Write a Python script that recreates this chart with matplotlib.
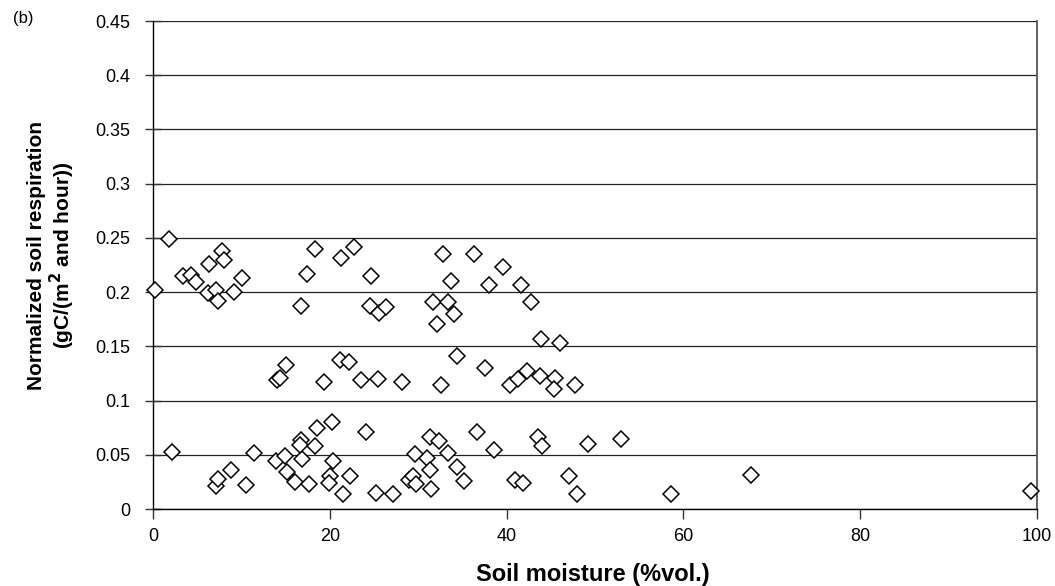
import matplotlib
matplotlib.use("Agg")
import matplotlib.pyplot as plt

plt.rcParams['font.family'] = ['Liberation Sans', 'DejaVu Sans']

soil_moisture = [
    1.8, 0.2, 3.4, 4.3, 4.9, 6.3, 7.8, 8.0, 6.2, 7.1, 7.4, 9.2, 10.1,
    16.7, 17.4, 18.3, 21.3, 22.7, 24.7, 24.5, 25.6, 26.4, 31.7, 32.1,
    32.8, 36.3, 39.6, 33.7, 38.0, 41.6, 33.4, 34.1, 42.8, 43.9, 46.0,
    34.4, 37.5, 32.6, 40.4, 41.3, 42.3, 43.8, 45.5, 45.4, 47.7,
    15.0, 14.0, 14.4, 19.3, 21.2, 22.2, 23.5, 25.5, 28.2,
    31.3, 32.4, 33.4, 31.0, 31.3, 31.5, 34.4, 35.2, 36.7, 38.6, 41.0, 41.8,
    43.5, 44.0, 47.1, 48.0, 49.2, 52.9, 58.6, 67.6, 99.3,
    2.2, 7.1, 7.3, 8.8, 10.5, 11.4, 13.9, 14.9, 15.2, 16.8, 16.1, 16.7,
    16.6, 18.3, 18.6, 20.3, 17.7, 20.4, 20.0, 19.9, 22.3, 21.5, 24.1,
    25.2, 27.2, 29.6, 29.0, 29.4, 29.8,
]
respiration = [
    0.249, 0.202, 0.215, 0.216, 0.209, 0.226, 0.238, 0.230, 0.199, 0.202, 0.192, 0.200, 0.213,
    0.187, 0.217, 0.240, 0.231, 0.242, 0.215, 0.187, 0.181, 0.186, 0.191, 0.171,
    0.235, 0.235, 0.223, 0.210, 0.207, 0.207, 0.191, 0.180, 0.191, 0.157, 0.153,
    0.141, 0.130, 0.114, 0.114, 0.120, 0.127, 0.123, 0.121, 0.111, 0.114,
    0.133, 0.119, 0.121, 0.117, 0.137, 0.136, 0.119, 0.120, 0.117,
    0.066, 0.063, 0.052, 0.047, 0.036, 0.018, 0.039, 0.026, 0.071, 0.054, 0.027, 0.024,
    0.066, 0.058, 0.030, 0.014, 0.060, 0.065, 0.014, 0.031, 0.017,
    0.053, 0.021, 0.028, 0.036, 0.022, 0.052, 0.044, 0.049, 0.034, 0.046, 0.025, 0.064,
    0.059, 0.058, 0.075, 0.080, 0.023, 0.044, 0.030, 0.024, 0.030, 0.014, 0.071,
    0.015, 0.014, 0.051, 0.027, 0.030, 0.023,
]
x_ticks = [0, 20, 40, 60, 80, 100]
y_ticks = [0, 0.05, 0.1, 0.15, 0.2, 0.25, 0.3, 0.35, 0.4, 0.45]
y_ticklabels = ['0', '0.05', '0.1', '0.15', '0.2', '0.25', '0.3', '0.35', '0.4', '0.45']

fig = plt.figure(figsize=(10.55, 5.86), dpi=100)
ax = fig.add_axes([153/1055, 1 - 509/586, (1037 - 153)/1055, (509 - 21)/586])

for yv in y_ticks:
    ax.axhline(yv, color='#222222', lw=0.9, zorder=1)

ax.plot(soil_moisture, respiration, linestyle='none', marker='D', ms=8.2,
        mfc='white', mec='black', mew=1.1, zorder=3, clip_on=False)

ax.set_xlim(0, 100)
ax.set_ylim(0, 0.45)
ax.set_xticks(x_ticks)
ax.set_yticks(y_ticks)
ax.set_yticklabels(y_ticklabels)
ax.tick_params(axis='both', labelsize=13, color='#333333', width=1)
ax.tick_params(axis='y', direction='inout', length=12, pad=10.5)
ax.tick_params(axis='x', direction='out', length=7, pad=7)

ax.spines['top'].set_visible(False)
ax.spines['left'].set_color('black')
ax.spines['bottom'].set_color('black')
ax.spines['right'].set_color('#555555')
ax.spines['right'].set_linewidth(1.3)
for s in ['left', 'bottom']:
    ax.spines[s].set_linewidth(1.0)

ax.set_xlabel('Soil moisture (%vol.)', fontsize=17, fontweight='bold')
ax.xaxis.set_label_coords(0.497, -0.11)
ax.set_ylabel('Normalized soil respiration\n(gC/(m$^\\mathbf{2}$ and hour))', fontsize=15,
              fontweight='bold', linespacing=1.1)
ax.yaxis.set_label_coords(-0.086, 0.52)

fig.text(13/1055, 1 - 18/586, '(b)', fontsize=12, va='center', ha='left')

fig.savefig('out.png', dpi=100)
